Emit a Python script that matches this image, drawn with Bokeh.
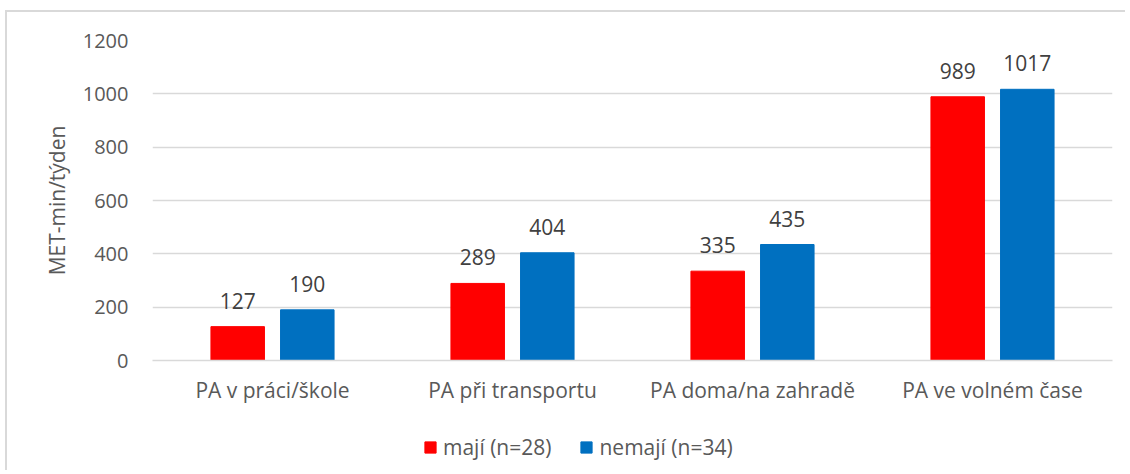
from bokeh.plotting import figure
from bokeh.models import (ColumnDataSource, Range1d, FixedTicker, Legend, LegendItem,
                          LabelSet)
from bokeh.layouts import column
from bokeh.transform import dodge
from bokeh.core.properties import value
from bokeh.embed import file_html
from bokeh.resources import INLINE

categories = ["PA v práci/škole", "PA při transportu", "PA doma/na zahradě", "PA ve volném čase"]
maji = [127, 289, 335, 989]
nemaji = [190, 404, 435, 1017]
series_names = ["mají (n=28)", "nemají (n=34)"]
y_ticks = [0, 200, 400, 600, 800, 1000, 1200]

FONT = "Open Sans"
RED = "#FF0000"
BLUE = "#0070C0"
GRID = "#d9d9d9"
TXT = "#595959"
W = 1118

src = ColumnDataSource(dict(cat=categories, maji=maji, nemaji=nemaji,
                            maji_lbl=[str(v) for v in maji],
                            nemaji_lbl=[str(v) for v in nemaji]))

p = figure(x_range=categories, y_range=Range1d(0, 1200), width=W, height=398,
           output_backend="svg", toolbar_location=None,
           min_border_left=145, min_border_right=13, min_border_top=28, min_border_bottom=50)
p.outline_line_color = None
p.background_fill_color = "white"
p.border_fill_color = "white"

off = 0.145
w = 0.223
r1 = p.vbar(x=dodge("cat", -off, range=p.x_range), top="maji", width=w, source=src,
            fill_color=RED, line_color=RED)
r2 = p.vbar(x=dodge("cat", off, range=p.x_range), top="nemaji", width=w, source=src,
            fill_color=BLUE, line_color=BLUE)

for col, o in (("maji", -off), ("nemaji", off)):
    lbl = LabelSet(x=dodge("cat", o, range=p.x_range), y=col, text=col + "_lbl", source=src,
                   text_align="center", text_baseline="alphabetic", y_offset=18,
                   text_font=value(FONT), text_font_size="21px", text_color="#404040")
    p.add_layout(lbl)

p.yaxis.ticker = FixedTicker(ticks=y_ticks)
p.yaxis.axis_line_color = None
p.yaxis.major_tick_line_color = None
p.yaxis.minor_tick_line_color = None
p.yaxis.major_label_text_font = FONT
p.yaxis.major_label_text_font_size = "20px"
p.yaxis.major_label_text_color = TXT
p.yaxis.major_label_standoff = 18
p.yaxis.axis_label = "MET-min/týden"
p.yaxis.axis_label_text_font = FONT
p.yaxis.axis_label_text_font_size = "21px"
p.yaxis.axis_label_text_font_style = "normal"
p.yaxis.axis_label_text_color = TXT
p.yaxis.axis_label_standoff = 9

p.xaxis.axis_line_color = GRID
p.xaxis.axis_line_width = 1.5
p.xaxis.major_tick_line_color = None
p.xaxis.minor_tick_line_color = None
p.xaxis.major_label_text_font = FONT
p.xaxis.major_label_text_font_size = "21px"
p.xaxis.major_label_text_color = TXT
p.xaxis.major_label_standoff = 9

p.xgrid.grid_line_color = None
p.ygrid.grid_line_color = GRID
p.ygrid.grid_line_width = 1.5

# legend strip below the chart (swatch renderers lie outside its visible range)
lg = figure(width=W, height=60, x_range=Range1d(0, 1), y_range=Range1d(0, 1),
            output_backend="svg", toolbar_location=None,
            min_border=0, min_border_left=0, min_border_right=0,
            min_border_top=0, min_border_bottom=0)
lg.axis.visible = False
lg.grid.visible = False
lg.outline_line_color = None
lg.border_fill_color = "white"
lg.background_fill_color = "white"
e1 = lg.vbar(x=[-10], top=[-10], bottom=[-20], width=0.1, fill_color=RED, line_color=RED)
e2 = lg.vbar(x=[-10], top=[-10], bottom=[-20], width=0.1, fill_color=BLUE, line_color=BLUE)
legend = Legend(items=[LegendItem(label=series_names[0], renderers=[e1]),
                       LegendItem(label=series_names[1], renderers=[e2])],
                orientation="horizontal", location=(271, 9),
                glyph_width=14, glyph_height=14, label_standoff=6, spacing=28,
                label_text_font=FONT, label_text_font_size="21px",
                label_text_color=TXT, border_line_color=None,
                background_fill_alpha=0, padding=0, margin=0)
lg.add_layout(legend, "center")

layout = column(p, lg, spacing=0)
layout.styles = {"margin-left": "5px", "margin-top": "10px",
                 "border-left": "2px solid #d9d9d9", "border-top": "2px solid #d9d9d9"}

open("out.html", "w").write(file_html(layout, INLINE))
